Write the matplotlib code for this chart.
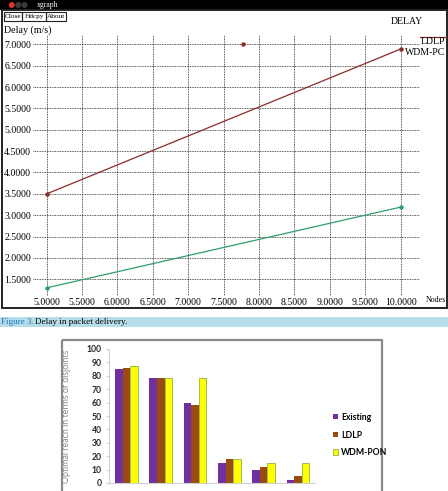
import matplotlib
matplotlib.use("Agg")
import matplotlib.pyplot as plt
from matplotlib.patches import Rectangle, Circle
import numpy as np

W, H = 448, 491

# top chart (xgraph): delay vs nodes
nodes = [5.0, 10.0]
ldlp_delay = [3.50, 6.89]
wdm_delay = [1.30, 3.19]
stray_x = [7.77]
stray_y = [7.0]
x_ticks = [5.0, 5.5, 6.0, 6.5, 7.0, 7.5, 8.0, 8.5, 9.0, 9.5, 10.0]
y_ticks = [1.5, 2.0, 2.5, 3.0, 3.5, 4.0, 4.5, 5.0, 5.5, 6.0, 6.5, 7.0]

# bottom chart: optimal reach
categories = ["1", "2", "3", "4", "5", "6"]
existing = [85, 78, 60, 15, 10, 2]
ldlp_reach = [86, 78, 58, 18, 12, 5]
wdm_pon = [87, 78, 78, 18, 15, 15]
reach_ticks = list(range(0, 101, 10))

SERIF = "Liberation Serif"
SANS = "Lato"


def px_axes(fig, x0, y0, x1, y1, **kw):
    return fig.add_axes([x0 / W, 1 - y1 / H, (x1 - x0) / W, (y1 - y0) / H], **kw)


fig = plt.figure(figsize=(W / 100, H / 100), dpi=100)
fig.patch.set_facecolor("white")

# overlay for the window chrome, frame and caption
ov = px_axes(fig, 0, 0, W, H)
ov.set_xlim(0, W)
ov.set_ylim(H, 0)
ov.axis("off")
ov.patch.set_alpha(0)

ov.add_patch(Rectangle((0, 0), W, 10, color="black", lw=0))
ov.add_patch(Circle((11.7, 5), 3.0, color="#d8352a", lw=0))
ov.add_patch(Circle((18.3, 5), 3.0, color="#3a3a3a", lw=0))
ov.add_patch(Circle((24.5, 5), 3.0, color="#3a3a3a", lw=0))
ov.text(37, 5.2, "xgraph", color="white", fontsize=5.5, family=SERIF, va="center")

for label, x0, x1 in [("Close", 4, 22), ("Hdcpy", 22, 46), ("About", 46, 66)]:
    ov.add_patch(Rectangle((x0, 12.3), x1 - x0, 8.6, fill=False, ec="#222222", lw=0.8))
    ov.text((x0 + x1) / 2, 16.8, label, fontsize=5.2, family=SERIF, ha="center", va="center")

# window frame
ov.add_patch(Rectangle((2, 10), 444.5, 298, fill=False, ec="#222222", lw=1.4))

ov.text(407, 21, "DELAY", fontsize=7, family=SERIF, ha="center", va="center")
ov.text(4, 30, "Delay (m/s)", fontsize=7.2, family=SERIF, ha="left", va="center")
ov.text(426, 300, "Nodes", fontsize=5.8, family=SERIF, ha="left", va="center")

# legend of xgraph
ov.plot([420, 446], [37, 37], color="#8b2a2a", lw=0.9)
ov.text(445, 41.5, "LDLP", fontsize=7, family=SERIF, ha="right", va="center")
ov.text(445, 52, "WDM-PC", fontsize=7, family=SERIF, ha="right", va="center")

# caption band
ov.add_patch(Rectangle((0, 317), W, 10, color="#b6dde8", lw=0))
ov.text(1, 322.3, "Figure 3.", color="#1f73b7", fontsize=6.6, family=SERIF, va="center")
ov.text(35, 322.3, "Delay in packet delivery.", color="black", fontsize=6.6, family=SERIF, va="center")

# bar chart frame
ov.add_patch(Rectangle((62, 340), 320, 170, fill=False, ec="#8a8a8a", lw=1.6))

# ---- top line chart ----
ax = px_axes(fig, 33, 35, 420, 296)
xpx = (400.7 - 46.7) / 5.0
ypx = (279.3 - 44.3) / 5.5
ax.set_xlim(5 - (46.7 - 33) / xpx, 5 + (420 - 46.7) / xpx)
ax.set_ylim(1.5 - (296 - 279.3) / ypx, 7.0 + (44.3 - 35) / ypx)
ax.patch.set_alpha(0)
for s in ax.spines.values():
    s.set_visible(False)
ax.set_xticks(x_ticks)
ax.set_yticks(y_ticks)
ax.set_xticklabels([f"{v:.4f}" for v in x_ticks], family=SERIF, fontsize=7)
ax.set_yticklabels([f"{v:.4f}" for v in y_ticks], family=SERIF, fontsize=7)
ax.tick_params(length=0, pad=1.5)
ax.grid(True, color="#222222", linestyle=(0, (1, 1)), linewidth=0.6)

ax.plot(nodes, ldlp_delay, color="#8b2a2a", lw=0.9, marker="o", ms=2.2)
ax.plot(nodes, wdm_delay, color="#2ea06a", lw=0.9, marker="o", ms=2.2)
ax.plot(stray_x, stray_y, color="#8b2a2a", marker="o", ms=2.2, lw=0)

# ---- bottom bar chart ----
bx = px_axes(fig, 109.3, 349, 315.1, 483)
bx.set_xlim(-0.5, len(categories) - 0.5)
bx.set_ylim(0, 100)
bx.patch.set_alpha(0)
for side in ("top", "right"):
    bx.spines[side].set_visible(False)
for side in ("left", "bottom"):
    bx.spines[side].set_color("#d0d0d0")
    bx.spines[side].set_linewidth(0.8)

idx = np.arange(len(categories))
bw = 0.222
bx.bar(idx - bw, existing, bw, color="#7030a0", label="Existing")
bx.bar(idx, ldlp_reach, bw, color="#9b4a10", label="LDLP")
bx.bar(idx + bw, wdm_pon, bw, color="#ffff00", edgecolor="#8db43f", linewidth=0.6, label="WDM-PON")

bx.set_yticks(reach_ticks)
bx.set_yticklabels([str(v) for v in reach_ticks], family=SANS, fontweight="bold",
                   fontsize=6.2, color="#262626")
bx.set_xticks(idx)
bx.set_xticklabels([])
bx.tick_params(axis="y", length=2.5, color="#d0d0d0", pad=3)
bx.tick_params(axis="x", length=0)
bx.set_ylabel("Optimal reach in terms of disjoints", family=SANS, fontsize=6.4,
              color="#8a8a8a", labelpad=11)

leg = bx.legend(loc="center left", bbox_to_anchor=((330 - 109.3) / 205.8, (483 - 435) / 134),
                frameon=False, prop={"family": SANS, "weight": "bold", "size": 6.2},
                handlelength=0.55, handleheight=0.55, handletextpad=0.35,
                labelspacing=1.0, borderaxespad=0)

fig.savefig("out.png", dpi=100)
